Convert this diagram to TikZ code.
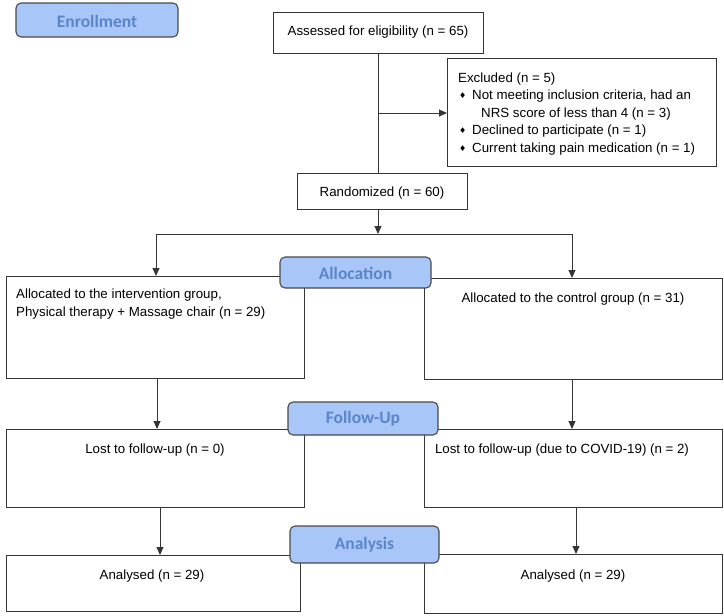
\documentclass[tikz,border=0pt]{standalone}
\usepackage{fontspec}
\setmainfont{Liberation Sans}
\newfontfamily\labfont{Carlito}
\newfontfamily\symfont{DejaVu Sans}
\usetikzlibrary{arrows.meta}
\definecolor{labfill}{HTML}{A9C6F9}
\definecolor{labtext}{HTML}{5A86C8}
\definecolor{edge}{HTML}{353535}
\tikzset{
  box/.style={draw=edge, line width=1pt, fill=white},
  stage/.style={draw=edge!90, line width=1.1pt, fill=labfill, rounded corners=5pt},
  stagetext/.style={text=labtext, font=\labfont\bfseries\fontsize{17.5}{20}\selectfont, inner sep=0pt},
  txt/.style={font=\fontsize{13.3}{17.4}\selectfont, inner sep=0pt, yshift=-2pt},
  conn/.style={draw=edge, line width=1pt},
  arr/.style={conn, -{Triangle[length=8pt,width=7pt]}}
}
\newcommand{\bul}{{\symfont\fontsize{8}{8}\selectfont\raisebox{1pt}{♦}}}
\begin{document}
\begin{tikzpicture}[x=1pt,y=-1pt]
\useasboundingbox (0,0) rectangle (724,616);
% boxes
\path[box] (273,12) rectangle (483,53);
\node[txt] (assess) at (378,30) {Assessed for eligibility (n = 65)};
\path[box] (447,58) rectangle (716,166);
\coordinate (exclW) at (447,113);
\path[box] (297,173) rectangle (467,209);
\node[txt] (rand) at (382,191) {Randomized (n = 60)};
\coordinate (assessS) at (378,53);
\coordinate (randN) at (378,173);
\coordinate (branch) at (378,113);
\coordinate (randS) at (378,209);
\coordinate (split) at (378,234);
\coordinate (splitL) at (156,234);
\coordinate (splitR) at (572,234);
% excluded text
\node[txt, anchor=north west, align=left] (excl) at (458,71) {Excluded (n = 5)\\[-0.3pt]
\makebox[14pt][l]{\hspace{1pt}\bul}Not meeting inclusion criteria, had an\\
\hspace{23pt}NRS score of less than 4 (n = 3)\\
\makebox[14pt][l]{\hspace{1pt}\bul}Declined to participate (n = 1)\\
\makebox[14pt][l]{\hspace{1pt}\bul}Current taking pain medication (n = 1)};
% allocation boxes
\path[box] (6,276) rectangle (304,378);
\path[box] (424,278) rectangle (722,379);
\node[txt, anchor=north west, align=left] (alloL) at (16,287) {Allocated to the intervention group,\\Physical therapy + Massage chair (n = 29)};
\node[txt] (alloR) at (573,297) {Allocated to the control group (n = 31)};
% follow-up boxes
\path[box] (6,429) rectangle (304,507);
\path[box] (424,429) rectangle (722,507);
\node[txt] (fuL) at (155,448) {Lost to follow-up (n = 0)};
\node[txt] (fuR) at (562,448) {Lost to follow-up (due to COVID-19) (n = 2)};
% analysis boxes
\path[box] (6,555) rectangle (300,611);
\path[box] (424,554) rectangle (722,613);
\node[txt] (anL) at (152,574) {Analysed (n = 29)};
\node[txt] (anR) at (573,574) {Analysed (n = 29)};
% connectors
\draw[conn] (assessS) -- (randN);
\draw[arr] (branch) -- (exclW);
\draw[arr] (randS) -- (split);
\draw[conn] (splitL) -- (splitR);
\draw[arr] (splitL) -- (156,276);
\draw[arr] (splitR) -- (572,278);
\draw[arr] (157,378) -- (157,429);
\draw[arr] (572,379) -- (572,429);
\draw[arr] (160,507) -- (160,555);
\draw[arr] (576,507) -- (576,554);
% stage labels
\path[stage] (16,3) rectangle (178,37);
\node[stagetext] (enr) at (97,21) {Enrollment};
\path[stage] (280,257) rectangle (431,288);
\node[stagetext] (alc) at (355.5,273) {Allocation};
\path[stage] (288,402) rectangle (438,435);
\node[stagetext] (fu) at (363,419) {Follow-Up};
\path[stage] (290,526) rectangle (439,563);
\node[stagetext] (an) at (364.5,545) {Analysis};
\end{tikzpicture}
\end{document}
